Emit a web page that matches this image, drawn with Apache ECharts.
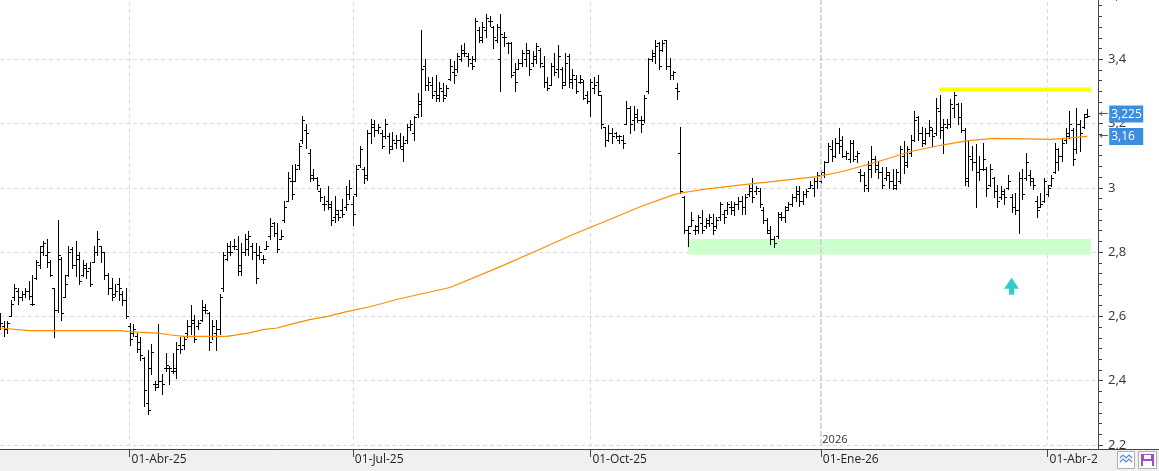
<!DOCTYPE html>
<html>
<head>
<meta charset="utf-8">
<script src="https://cdn.jsdelivr.net/npm/echarts@6/dist/echarts.min.js"></script>
<style>
html, body { margin: 0; padding: 0; overflow: hidden; }
body { background: linear-gradient(to bottom, #fff 0, #fff 450px, #f0f0f0 450px, #f0f0f0 100%); }
#chart { width: 1159px; height: 471px; }
</style>
</head>
<body>
<div id="chart"></div>
<script>
// trading calendar
var firstDay = '2025-02-10';
var nSlots = 306;
var holidays = ['2025-04-18', '2025-04-21', '2025-05-01', '2025-12-25', '2025-12-26', '2026-01-01', '2026-04-03', '2026-04-06'];
var monthNames = ['Ene', 'Feb', 'Mar', 'Abr', 'May', 'Jun', 'Jul', 'Ago', 'Sep', 'Oct', 'Nov', 'Dic'];

// daily bars [open, high, low, close]
var barsFebMar25 = [
  [2.60,2.61,2.56,2.58],[2.57,2.585,2.54,2.56],[2.56,2.585,2.55,2.58],[2.60,2.65,2.60,2.64],[2.66,2.70,2.65,2.69],
  [2.68,2.69,2.64,2.66],[2.66,2.68,2.65,2.67],[2.67,2.69,2.66,2.68],[2.68,2.71,2.655,2.665],[2.64,2.73,2.635,2.64],
  [2.72,2.775,2.715,2.77],[2.76,2.82,2.75,2.80],[2.82,2.835,2.79,2.83],[2.79,2.84,2.755,2.80],[2.77,2.775,2.725,2.73],
  [2.69,2.69,2.535,2.62],[2.62,2.90,2.615,2.79],[2.78,2.785,2.59,2.61],[2.66,2.73,2.66,2.70],[2.73,2.82,2.725,2.80],
  [2.81,2.815,2.75,2.76],[2.76,2.835,2.725,2.79],[2.78,2.80,2.70,2.71],[2.73,2.775,2.725,2.76],[2.75,2.765,2.72,2.74],
  [2.75,2.77,2.695,2.70],[2.77,2.82,2.77,2.80],[2.80,2.865,2.79,2.84],[2.82,2.82,2.77,2.80],[2.80,2.80,2.715,2.73],
  [2.73,2.735,2.67,2.69],[2.69,2.72,2.65,2.66],[2.67,2.70,2.665,2.68],[2.70,2.72,2.65,2.69],[2.67,2.68,2.635,2.65],
  [2.65,2.69,2.595,2.60]
];
var barsQ2_25 = [
  [2.57,2.58,2.51,2.53],[2.55,2.575,2.54,2.56],[2.54,2.55,2.49,2.50],[2.52,2.535,2.465,2.48],[2.47,2.475,2.32,2.37],
  [2.33,2.495,2.295,2.31],[2.44,2.515,2.42,2.49],[2.39,2.40,2.37,2.38],[2.39,2.575,2.38,2.40],[2.40,2.42,2.36,2.39],
  [2.44,2.485,2.43,2.45],[2.44,2.445,2.39,2.44],[2.43,2.485,2.425,2.43],[2.44,2.52,2.41,2.50],[2.51,2.535,2.485,2.50],
  [2.51,2.535,2.50,2.53],[2.55,2.59,2.535,2.57],[2.57,2.635,2.545,2.58],[2.59,2.605,2.52,2.53],[2.57,2.59,2.56,2.58],
  [2.59,2.65,2.585,2.62],[2.63,2.64,2.61,2.62],[2.61,2.615,2.495,2.52],[2.54,2.59,2.53,2.57],[2.55,2.59,2.495,2.56],
  [2.56,2.67,2.545,2.66],[2.69,2.80,2.68,2.79],[2.78,2.83,2.775,2.80],[2.82,2.835,2.79,2.80],[2.82,2.84,2.81,2.82],
  [2.81,2.85,2.73,2.74],[2.76,2.83,2.73,2.80],[2.80,2.855,2.79,2.84],[2.81,2.865,2.79,2.85],[2.82,2.83,2.78,2.80],
  [2.80,2.83,2.705,2.72],[2.79,2.82,2.78,2.80],[2.78,2.79,2.765,2.78],[2.81,2.835,2.81,2.82],[2.85,2.905,2.84,2.88],
  [2.89,2.895,2.85,2.86],[2.86,2.89,2.80,2.81],[2.84,2.87,2.84,2.85],[2.90,2.96,2.895,2.94],[2.96,3.05,2.96,3.03],
  [3.02,3.07,2.965,2.98],[3.02,3.075,3.02,3.06],[3.07,3.14,3.06,3.13],[3.15,3.225,3.14,3.21],[3.18,3.20,3.125,3.17],
  [3.11,3.12,3.02,3.03],[3.04,3.06,3.025,3.03],[3.03,3.035,2.995,3.01],[2.99,3.0,2.96,2.97],[2.95,2.975,2.93,2.95],
  [2.96,3.005,2.935,2.95],[2.94,2.96,2.885,2.90],[2.91,2.975,2.895,2.93],[2.92,2.93,2.90,2.91],[2.93,2.965,2.91,2.92],
  [2.94,3.005,2.93,2.95],[2.98,3.025,2.965,3.0]
];
var barsQ3_25 = [
  [2.95,2.975,2.885,2.92],[2.98,3.07,2.975,3.06],[3.07,3.13,3.065,3.12],[3.06,3.065,3.015,3.04],[3.03,3.18,3.025,3.17],
  [3.17,3.215,3.14,3.20],[3.19,3.21,3.16,3.18],[3.18,3.20,3.17,3.19],[3.17,3.18,3.125,3.13],[3.16,3.215,3.155,3.20],
  [3.16,3.17,3.11,3.12],[3.13,3.175,3.12,3.15],[3.14,3.165,3.125,3.15],[3.15,3.17,3.125,3.13],[3.12,3.16,3.085,3.14],
  [3.15,3.20,3.14,3.19],[3.19,3.21,3.18,3.20],[3.17,3.225,3.15,3.22],[3.23,3.295,3.22,3.27],[3.26,3.49,3.225,3.37],
  [3.38,3.40,3.305,3.32],[3.32,3.345,3.305,3.33],[3.32,3.345,3.28,3.29],[3.30,3.35,3.27,3.28],[3.29,3.33,3.27,3.31],
  [3.30,3.325,3.27,3.28],[3.29,3.32,3.285,3.31],[3.34,3.40,3.335,3.38],[3.36,3.395,3.325,3.35],[3.37,3.42,3.36,3.41],
  [3.40,3.445,3.395,3.42],[3.43,3.45,3.41,3.42],[3.41,3.42,3.38,3.40],[3.39,3.41,3.37,3.38],[3.40,3.53,3.395,3.52],
  [3.49,3.50,3.455,3.46],[3.47,3.515,3.455,3.50],[3.49,3.54,3.47,3.53],[3.52,3.535,3.505,3.52],[3.50,3.505,3.435,3.47],
  [3.46,3.51,3.455,3.50],[3.40,3.54,3.30,3.48],[3.47,3.485,3.44,3.47],[3.45,3.455,3.42,3.45],[3.45,3.455,3.345,3.35],
  [3.36,3.39,3.30,3.33],[3.37,3.40,3.37,3.39],[3.39,3.43,3.38,3.42],[3.40,3.45,3.38,3.43],[3.42,3.43,3.35,3.37],
  [3.39,3.425,3.38,3.41],[3.40,3.45,3.39,3.44],[3.43,3.435,3.375,3.39],[3.38,3.41,3.315,3.33],[3.33,3.345,3.305,3.31],
  [3.32,3.39,3.32,3.38],[3.38,3.42,3.35,3.36],[3.37,3.445,3.345,3.41],[3.37,3.375,3.31,3.32],[3.33,3.42,3.32,3.39],
  [3.41,3.415,3.315,3.33],[3.34,3.37,3.31,3.35],[3.34,3.35,3.295,3.30],[3.33,3.35,3.325,3.34],[3.33,3.335,3.275,3.28],
  [3.29,3.30,3.265,3.27]
];
var barsQ4_25 = [
  [3.27,3.34,3.225,3.33],[3.31,3.345,3.295,3.32],[3.33,3.35,3.29,3.30],[3.29,3.29,3.185,3.20],[3.19,3.19,3.13,3.15],
  [3.15,3.195,3.145,3.17],[3.17,3.185,3.14,3.16],[3.17,3.175,3.155,3.16],[3.15,3.165,3.14,3.16],[3.15,3.165,3.125,3.14],
  [3.20,3.27,3.20,3.25],[3.25,3.255,3.17,3.20],[3.21,3.255,3.18,3.23],[3.22,3.245,3.205,3.21],[3.21,3.225,3.175,3.20],
  [3.21,3.29,3.205,3.28],[3.30,3.405,3.295,3.40],[3.40,3.43,3.395,3.41],[3.42,3.46,3.39,3.44],[3.45,3.455,3.37,3.38],
  [3.43,3.46,3.425,3.45],[3.46,3.46,3.37,3.38],[3.38,3.405,3.34,3.35],[3.35,3.365,3.34,3.36],[3.31,3.325,3.275,3.30],
  [3.11,3.19,2.985,2.99],[2.97,2.975,2.86,2.87],[2.87,2.88,2.82,2.86],[2.88,2.925,2.88,2.90],[2.87,2.885,2.855,2.88],
  [2.87,2.915,2.86,2.91],[2.89,2.93,2.86,2.87],[2.88,2.905,2.875,2.89],[2.90,2.92,2.88,2.91],[2.89,2.92,2.855,2.87],
  [2.88,2.91,2.875,2.90],[2.91,2.955,2.90,2.95],[2.92,2.93,2.89,2.91],[2.93,2.955,2.92,2.95],[2.94,2.96,2.92,2.93],
  [2.94,2.955,2.915,2.95],[2.95,2.97,2.935,2.96],[2.96,2.975,2.92,2.94],[2.94,2.98,2.92,2.97],[2.98,3.01,2.975,3.0],
  [2.99,3.03,2.955,2.97],[2.99,3.005,2.98,3.0],[2.99,3.0,2.94,2.95],[2.93,2.94,2.89,2.90],[2.90,2.905,2.86,2.87],
  [2.86,2.88,2.825,2.84],[2.84,2.85,2.815,2.83],[2.85,2.925,2.845,2.92],[2.91,2.925,2.90,2.91],[2.91,2.945,2.895,2.94],
  [2.93,2.955,2.93,2.95],[2.95,2.98,2.945,2.97],[2.97,3.005,2.96,2.99],[2.98,3.005,2.945,2.96],[2.96,2.99,2.95,2.98],
  [2.98,2.995,2.97,2.99],[3.0,3.02,3.0,3.01],[3.0,3.03,2.975,3.02],[3.02,3.05,3.0,3.04]
];
var barsQ1_26 = [
  [3.02,3.055,3.015,3.05],[3.04,3.085,3.035,3.08],[3.08,3.14,3.08,3.13],[3.12,3.15,3.085,3.10],[3.10,3.155,3.095,3.14],
  [3.14,3.185,3.11,3.13],[3.15,3.16,3.095,3.10],[3.10,3.115,3.09,3.11],[3.09,3.15,3.08,3.14],[3.14,3.15,3.085,3.09],
  [3.10,3.115,3.08,3.11],[3.05,3.06,3.02,3.04],[3.04,3.05,2.99,3.01],[3.0,3.085,2.99,3.07],[3.06,3.13,3.035,3.09],
  [3.09,3.10,3.05,3.06],[3.07,3.085,3.03,3.05],[3.05,3.065,3.0,3.01],[3.03,3.065,3.025,3.05],[3.04,3.05,3.0,3.02],
  [3.02,3.06,2.995,3.0],[3.01,3.06,2.995,3.05],[3.02,3.13,3.015,3.12],[3.10,3.145,3.045,3.07],[3.08,3.13,3.065,3.12],
  [3.11,3.165,3.10,3.15],[3.15,3.24,3.145,3.21],[3.22,3.225,3.15,3.17],[3.17,3.19,3.13,3.15],[3.14,3.185,3.135,3.17],
  [3.17,3.21,3.16,3.19],[3.18,3.185,3.13,3.16],[3.17,3.28,3.165,3.25],[3.24,3.29,3.155,3.19],[3.18,3.215,3.11,3.20],
  [3.19,3.215,3.185,3.20],[3.20,3.275,3.19,3.26],[3.25,3.31,3.22,3.29],[3.26,3.265,3.20,3.22],[3.22,3.265,3.175,3.18],
  [3.18,3.185,3.01,3.02],[3.03,3.145,3.005,3.10],[3.09,3.13,3.055,3.08],[3.08,3.135,2.94,3.05],[3.05,3.10,3.025,3.06],
  [3.06,3.14,3.055,3.09],[3.06,3.065,2.975,3.0],[3.01,3.075,3.005,3.06],[3.03,3.035,2.97,2.99],[2.99,3.01,2.94,2.96],
  [2.97,3.005,2.965,2.99],[2.98,2.995,2.95,2.97],[3.0,3.04,2.995,3.02],[2.97,2.98,2.925,2.94],[2.94,2.985,2.92,2.93],
  [2.93,3.05,2.86,3.03],[3.03,3.06,2.965,2.98],[3.03,3.11,3.025,3.08],[3.04,3.055,3.01,3.03],[3.02,3.03,2.995,3.01],
  [2.96,2.975,2.91,2.93],[2.94,2.985,2.94,2.95],[2.96,3.03,2.955,3.02]
];
var barsApr26 = [
  [2.98,3.01,2.975,3.0],[3.01,3.04,3.005,3.03],[3.05,3.14,3.045,3.12],[3.08,3.125,3.055,3.10],[3.10,3.155,3.085,3.14],
  [3.15,3.185,3.14,3.17],[3.16,3.24,3.155,3.20],[3.18,3.185,3.07,3.09],[3.12,3.25,3.11,3.20],[3.20,3.21,3.115,3.17],
  [3.19,3.23,3.185,3.22],[3.23,3.245,3.22,3.225]
];

// moving average read at bar index [index, value]
var maPoints = [
  [0,2.564],[8,2.556],[33,2.556],[38,2.551],[44,2.548],[47,2.543],[51,2.538],[63,2.538],[69,2.548],[73,2.559],
  [77,2.564],[81,2.576],[86,2.590],[91,2.600],[96,2.614],[103,2.631],[111,2.655],[125,2.690],[139,2.755],[150,2.809],
  [159,2.854],[169,2.900],[178,2.942],[187,2.978],[189,2.984],[196,2.996],[206,3.009],[215,3.020],[227,3.035],[234,3.051],
  [244,3.082],[253,3.113],[262,3.134],[269,3.147],[276,3.154],[281,3.153],[292,3.151],[302,3.160]
];

// annotations
var lastPrice = 3.225, lastMa = 3.16;
var resistance = 3.307, resistFrom = 261, resistTo = 303;
var supportTop = 2.841, supportBottom = 2.793, supportFrom = 191, supportTo = 303;
var arrowAt = [281, 2.694];

function tradingDays(start, n) {
  var d = new Date(start + 'T00:00:00Z');
  var out = [];
  while (out.length < n) {
    var dow = d.getUTCDay();
    var s = d.toISOString().slice(0, 10);
    if (dow != 0 && dow != 6 && holidays.indexOf(s) < 0) out.push(s);
    d.setUTCDate(d.getUTCDate() + 1);
  }
  return out;
}
var dates = tradingDays(firstDay, nSlots);

function isQuarterStart(i) {
  if (i == 0) return false;
  var m = +dates[i].slice(5, 7);
  return dates[i - 1].slice(5, 7) != dates[i].slice(5, 7) && (m - 1) % 3 == 0;
}
function quarterLabel(v) {
  return '01-' + monthNames[+v.slice(5, 7) - 1] + '-' + v.slice(2, 4);
}
var yearIdx = dates.findIndex(function (d) { return d.slice(0, 4) == '2026'; });

var bars = [].concat(barsFebMar25, barsQ2_25, barsQ3_25, barsQ4_25, barsQ1_26, barsApr26);
var ohlc = bars.map(function (b, i) { return [i, b[0], b[1], b[2], b[3]]; });

function renderOhlc(params, api) {
  var i = api.value(0);
  var xi = Math.round(api.coord([i, api.value(2)])[0]);
  var yh = Math.round(api.coord([i, api.value(2)])[1]);
  var yl = Math.round(api.coord([i, api.value(3)])[1]);
  var yo = Math.round(api.coord([i, api.value(1)])[1]) + 0.5;
  var yc = Math.round(api.coord([i, api.value(4)])[1]) + 0.5;
  var st = { stroke: '#000', lineWidth: 1 };
  return {
    type: 'group',
    children: [
      { type: 'line', shape: { x1: xi + 0.5, y1: yh, x2: xi + 0.5, y2: yl + 1 }, style: st },
      { type: 'line', shape: { x1: xi - 2, y1: yo, x2: xi, y2: yo }, style: st },
      { type: 'line', shape: { x1: xi + 1, y1: yc, x2: xi + 3, y2: yc }, style: st }
    ]
  };
}

var font = 'Open Sans';
var gridDash = [4, 3];

var option = {
  animation: false,
  backgroundColor: 'transparent',
  textStyle: { fontFamily: font },
  grid: { left: 0, right: 61, top: -5, bottom: 26, outerBoundsMode: 'none', containLabel: false },
  xAxis: {
    type: 'category',
    data: dates,
    boundaryGap: false,
    offset: 4,
    axisLine: { lineStyle: { color: '#444' } },
    axisTick: { interval: function (i) { return isQuarterStart(i); }, alignWithLabel: true, length: 8, lineStyle: { color: '#444' } },
    axisLabel: {
      interval: function (i) { return isQuarterStart(i); },
      formatter: quarterLabel,
      align: 'left', margin: 5, padding: [0, 0, 0, 2],
      color: '#222', fontSize: 12, fontFamily: font
    },
    splitLine: {
      show: true,
      interval: function (i) { return isQuarterStart(i) && i != yearIdx; },
      lineStyle: { color: '#dcdcdc', type: gridDash }
    }
  },
  yAxis: {
    type: 'value',
    position: 'right',
    min: 2.2, max: 3.6, interval: 0.2,
    axisLine: { show: true, lineStyle: { color: '#444' } },
    axisTick: { show: true, length: 5, lineStyle: { color: '#444' } },
    minorTick: { show: true, splitNumber: 6, length: 4, lineStyle: { color: '#444' } },
    axisLabel: {
      margin: 10, color: '#333', fontSize: 13, fontFamily: font,
      formatter: function (v) { return String(+v.toFixed(2)).replace('.', ','); }
    },
    splitLine: { show: true, lineStyle: { color: '#dcdcdc', type: gridDash } }
  },
  series: [
    {
      name: 'marcas',
      type: 'line',
      data: [],
      z: 1,
      markArea: {
        silent: true,
        itemStyle: { color: '#ccffcc' },
        data: [[{ coord: [supportFrom, supportTop] }, { coord: [supportTo, supportBottom] }]]
      },
      markLine: {
        silent: true,
        symbol: 'none',
        label: { show: false },
        data: [
          [{ coord: [resistFrom, resistance], lineStyle: { color: '#d8ffc8', width: 5, type: 'solid' } },
           { coord: [resistTo, resistance], lineStyle: { color: '#d8ffc8', width: 5, type: 'solid' } }],
          [{ coord: [resistFrom, resistance], lineStyle: { color: '#ffff00', width: 3, type: 'solid' } },
           { coord: [resistTo, resistance], lineStyle: { color: '#ffff00', width: 3, type: 'solid' } }],
          { xAxis: yearIdx, lineStyle: { color: '#cccccc', width: 1.5, type: [6, 2] } }
        ]
      },
      markPoint: {
        silent: true,
        data: [
          {
            coord: arrowAt,
            symbol: 'path://M7.5,0 L15,11 L10,11 L10,17 L5,17 L5,11 L0,11 Z',
            symbolSize: [15, 17],
            itemStyle: { color: '#33cccc' },
            label: { show: false }
          },
          {
            coord: [yearIdx, 2.215],
            symbol: 'rect', symbolSize: 1,
            itemStyle: { color: 'rgba(0,0,0,0)' },
            label: { show: true, position: 'right', distance: 1, formatter: '2026', color: '#333', fontSize: 11, fontFamily: font }
          }
        ]
      }
    },
    {
      name: 'OHLC',
      type: 'custom',
      renderItem: renderOhlc,
      data: ohlc,
      encode: { x: 0, y: [1, 2, 3, 4] },
      clip: true,
      z: 2
    },
    {
      name: 'Media',
      type: 'line',
      data: maPoints,
      symbol: 'none',
      clip: false,
      lineStyle: { color: '#ff8c00', width: 1.2 },
      z: 3,
      markLine: {
        silent: true,
        symbol: 'none',
        lineStyle: { color: 'rgba(0,0,0,0)', opacity: 1, width: 1, type: 'solid' },
        label: {
          show: true, position: 'end', distance: 1, opacity: 1,
          rich: {
            a: { color: '#555', fontSize: 11, fontFamily: 'DejaVu Sans', padding: [0, 1, 0, 0] },
            b: { color: '#fff', backgroundColor: '#3d8ee0', fontSize: 12, lineHeight: 14, fontFamily: font, width: 31, padding: [3, 1, 2, 2] }
          }
        },
        data: [
          { yAxis: lastPrice, label: { formatter: '{a|←}{b|' + String(lastPrice).replace('.', ',') + '}' } },
          { yAxis: lastMa, label: { formatter: '{a|←}{b|' + String(lastMa).replace('.', ',') + '}' } }
        ]
      }
    }
  ],
  graphic: [
    { type: 'rect', shape: { x: 1097, y: 450, width: 62, height: 21 }, style: { fill: '#f0f0f0' }, z: 100 },
    { type: 'line', shape: { x1: 1098, y1: 449.5, x2: 1159, y2: 449.5 }, style: { stroke: '#444', lineWidth: 1 }, z: 100 },
    { type: 'line', shape: { x1: 1098.5, y1: 440, x2: 1098.5, y2: 450 }, style: { stroke: '#444', lineWidth: 1 }, z: 100 },
    { type: 'rect', shape: { x: 1117.5, y: 451.5, width: 17, height: 17 }, style: { fill: '#fbfbfb', stroke: '#b0b0b0' }, z: 101 },
    { type: 'polyline', shape: { points: [[1120, 458], [1123, 455], [1126, 458], [1129, 455], [1132, 458]] }, style: { stroke: '#4a90d9', fill: null, lineWidth: 1.2 }, z: 102 },
    { type: 'polyline', shape: { points: [[1120, 462], [1123, 459], [1126, 462], [1129, 459], [1132, 462]] }, style: { stroke: '#4a90d9', fill: null, lineWidth: 1.2 }, z: 102 },
    { type: 'rect', shape: { x: 1138.5, y: 451.5, width: 18, height: 17 }, style: { fill: '#fbfbfb', stroke: '#b0b0b0' }, z: 101 },
    { type: 'rect', shape: { x: 1141, y: 454, width: 13, height: 12 }, style: { fill: '#9b4fc8' }, z: 102 },
    { type: 'rect', shape: { x: 1144, y: 455, width: 7, height: 4 }, style: { fill: '#fff' }, z: 103 },
    { type: 'rect', shape: { x: 1143, y: 461, width: 9, height: 5 }, style: { fill: '#fff' }, z: 103 }
  ]
};

var chart = echarts.init(document.getElementById('chart'));
chart.setOption(option);
</script>
</body>
</html>
